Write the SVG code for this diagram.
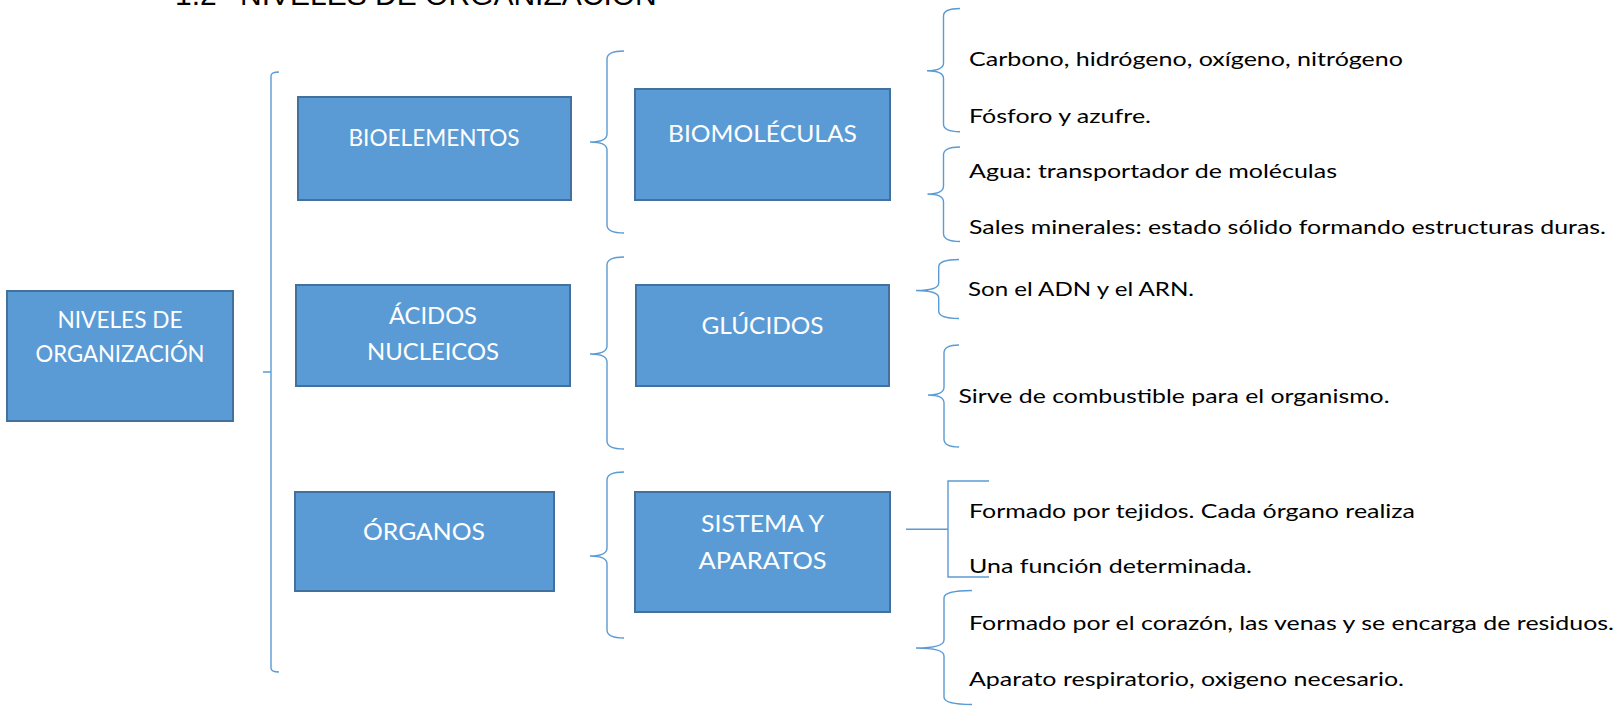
<svg xmlns="http://www.w3.org/2000/svg" width="1621" height="706" viewBox="0 0 1621 706">
<style>
.box{fill:#5B9BD5;stroke:#41719C;stroke-width:2}
.bt{font-family:Lato,"Liberation Sans",sans-serif;font-size:23px;fill:#FFFFFF;text-anchor:middle}
.tx{font-family:Lato,"Liberation Sans",sans-serif;font-size:20px;fill:#000000}
.ln{fill:none;stroke:#5B9BD5;stroke-width:1.4}
.title{font-family:"Liberation Sans",Arial,sans-serif;font-size:30px;fill:#000000}
</style>
<rect width="1621" height="706" fill="#FFFFFF"/>
<text class="title" y="5"><tspan x="175">1.2</tspan><tspan x="240">NIVELES DE ORGANIZACIÓN</tspan></text>

<g id="connectors">
<path class="ln" d="M279,72 Q271,72 271,76 L271,668 Q271,672 279,672 M263,372 L271,372"/>
<path class="ln" d="M624,51 Q607,51 607,59 L607,134 Q607,142 590,142 Q607,142 607,150 L607,225 Q607,233 624,233"/>
<path class="ln" d="M624,257 Q607,257 607,265 L607,346 Q607,354 590,354 Q607,354 607,362 L607,441 Q607,449 624,449"/>
<path class="ln" d="M624,472 Q607,472 607,480 L607,548 Q607,556 590,556 Q607,556 607,564 L607,630 Q607,638 624,638"/>
<path class="ln" d="M960,8.5 Q943.5,8.5 943.5,16 L943.5,63 Q943.5,70.7 927,70.7 Q943.5,70.7 943.5,78.5 L943.5,124 Q943.5,131.7 960,131.7"/>
<path class="ln" d="M960,147 Q943.5,147 943.5,155 L943.5,186 Q943.5,194 927.5,194 Q943.5,194 943.5,202 L943.5,233.5 Q943.5,241.5 960,241.5"/>
<path class="ln" d="M959,259.5 Q938.7,259.5 938.7,267 L938.7,283 Q938.7,290.5 916,290.5 Q938.7,290.5 938.7,298 L938.7,311 Q938.7,318.5 959,318.5"/>
<path class="ln" d="M959,345 Q944,345 944,353 L944,387 Q944,395 928,395 Q944,395 944,403 L944,439 Q944,447 959,447"/>
<path class="ln" d="M989,481 L948,481 L948,577 L989,577 M906,529.3 L948,529.3"/>
<path class="ln" d="M972,590.5 Q944,590.5 944,598 L944,640 Q944,648 916,648 Q944,648 944,656 L944,697 Q944,704.5 972,704.5"/>
</g>

<g id="niveles">
<rect class="box" x="7" y="291" width="226" height="130"/>
<text class="bt" x="120" y="328" textLength="125" lengthAdjust="spacingAndGlyphs">NIVELES DE</text>
<text class="bt" x="120" y="362" textLength="169" lengthAdjust="spacingAndGlyphs">ORGANIZACIÓN</text>
</g>
<g id="bioelementos">
<rect class="box" x="298" y="97" width="273" height="103"/>
<text class="bt" x="434" y="146" textLength="171" lengthAdjust="spacingAndGlyphs">BIOELEMENTOS</text>
</g>
<g id="acidos">
<rect class="box" x="296" y="285" width="274" height="101"/>
<text class="bt" x="433" y="324" textLength="88" lengthAdjust="spacingAndGlyphs">ÁCIDOS</text>
<text class="bt" x="433" y="360" textLength="132" lengthAdjust="spacingAndGlyphs">NUCLEICOS</text>
</g>
<g id="organos">
<rect class="box" x="295" y="492" width="259" height="99"/>
<text class="bt" x="424" y="540" textLength="122" lengthAdjust="spacingAndGlyphs">ÓRGANOS</text>
</g>
<g id="biomoleculas">
<rect class="box" x="635" y="89" width="255" height="111"/>
<text class="bt" x="762.5" y="142" textLength="189" lengthAdjust="spacingAndGlyphs">BIOMOLÉCULAS</text>
</g>
<g id="glucidos">
<rect class="box" x="636" y="285" width="253" height="101"/>
<text class="bt" x="762.5" y="334" textLength="122" lengthAdjust="spacingAndGlyphs">GLÚCIDOS</text>
</g>
<g id="sistema">
<rect class="box" x="635" y="492" width="255" height="120"/>
<text class="bt" x="762.5" y="532" textLength="123" lengthAdjust="spacingAndGlyphs">SISTEMA Y</text>
<text class="bt" x="762.5" y="569" textLength="128" lengthAdjust="spacingAndGlyphs">APARATOS</text>
</g>

<g id="bioelementos-list">
<text class="tx" x="969" y="66" textLength="434" lengthAdjust="spacingAndGlyphs">Carbono, hidrógeno, oxígeno, nitrógeno</text>
<text class="tx" x="969" y="122.7" textLength="182" lengthAdjust="spacingAndGlyphs">Fósforo y azufre.</text>
</g>
<g id="biomoleculas-list">
<text class="tx" x="969" y="178.3" textLength="368" lengthAdjust="spacingAndGlyphs">Agua: transportador de moléculas</text>
<text class="tx" x="969" y="234" textLength="637" lengthAdjust="spacingAndGlyphs">Sales minerales: estado sólido formando estructuras duras.</text>
</g>
<g id="acidos-list">
<text class="tx" x="968" y="296" textLength="226" lengthAdjust="spacingAndGlyphs">Son el ADN y el ARN.</text>
</g>
<g id="glucidos-list">
<text class="tx" x="958.5" y="403" textLength="431" lengthAdjust="spacingAndGlyphs">Sirve de combustible para el organismo.</text>
</g>
<g id="organos-list">
<text class="tx" x="969" y="518" textLength="446" lengthAdjust="spacingAndGlyphs">Formado por tejidos. Cada órgano realiza</text>
<text class="tx" x="969" y="573" textLength="283" lengthAdjust="spacingAndGlyphs">Una función determinada.</text>
</g>
<g id="sistema-list">
<text class="tx" x="969" y="629.5" textLength="645" lengthAdjust="spacingAndGlyphs">Formado por el corazón, las venas y se encarga de residuos.</text>
<text class="tx" x="969" y="686" textLength="435" lengthAdjust="spacingAndGlyphs">Aparato respiratorio, oxigeno necesario.</text>
</g>
</svg>
